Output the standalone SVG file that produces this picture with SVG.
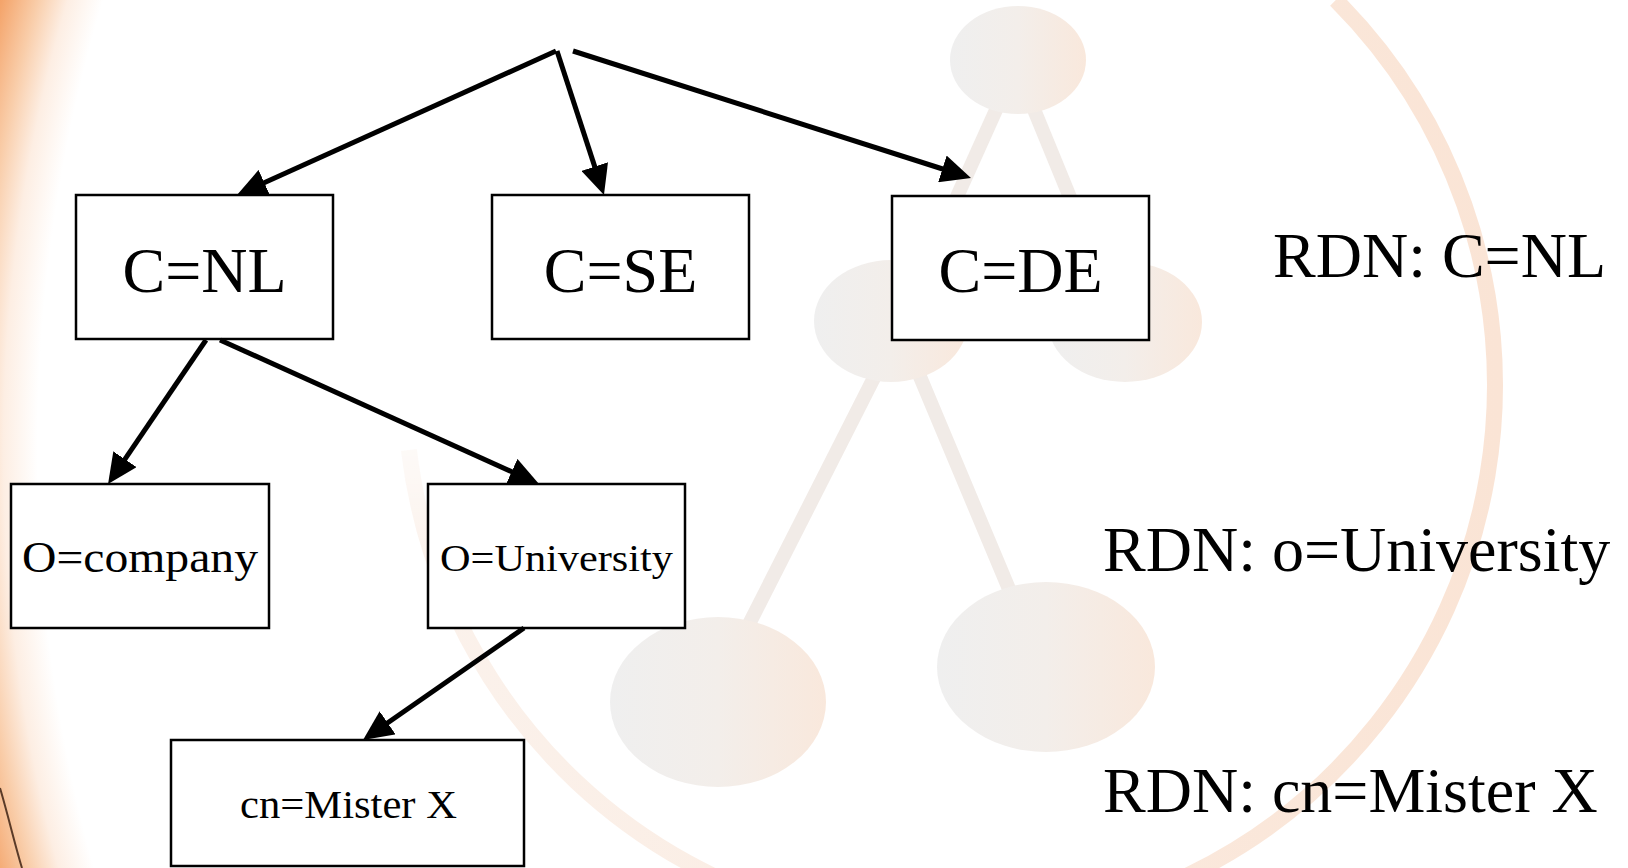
<svg xmlns="http://www.w3.org/2000/svg" width="1628" height="868" viewBox="0 0 1628 868">
  <defs>
    <!-- warm slide border fading in from the left edge -->
    <radialGradient id="edgeGlow" gradientUnits="userSpaceOnUse" cx="1610" cy="450" r="1700">
      <stop offset="0" stop-color="#ffffff"/>
      <stop offset="0.925" stop-color="#ffffff"/>
      <stop offset="0.945" stop-color="#fdeee3"/>
      <stop offset="0.962" stop-color="#f9cda9"/>
      <stop offset="0.982" stop-color="#f4a56c"/>
      <stop offset="1" stop-color="#f08f4c"/>
    </radialGradient>
    <linearGradient id="nodeTint" x1="0" y1="0" x2="1" y2="0">
      <stop offset="0" stop-color="#efefef"/>
      <stop offset="0.5" stop-color="#f3eeea"/>
      <stop offset="1" stop-color="#f9e8dc"/>
    </linearGradient>
    <linearGradient id="ringTint" gradientUnits="userSpaceOnUse" x1="400" y1="0" x2="1500" y2="0">
      <stop offset="0" stop-color="#fbf2ec"/>
      <stop offset="1" stop-color="#fae4d5"/>
    </linearGradient>
    <!-- fades the open end of the ring on the left -->
    <linearGradient id="ringFade" gradientUnits="userSpaceOnUse" x1="0" y1="380" x2="0" y2="560">
      <stop offset="0" stop-color="#000"/>
      <stop offset="1" stop-color="#fff"/>
    </linearGradient>
    <mask id="ringMask" maskUnits="userSpaceOnUse" x="0" y="0" width="1628" height="868">
      <rect x="0" y="0" width="1628" height="868" fill="#fff"/>
      <rect x="0" y="0" width="760" height="868" fill="url(#ringFade)"/>
    </mask>
    <marker id="arrow" viewBox="0 0 30 28" refX="2" refY="14" markerWidth="30" markerHeight="28" markerUnits="userSpaceOnUse" orient="auto">
      <path d="M0,0 L30,14 L0,28 z" fill="#000"/>
    </marker>
  </defs>
  <style>
    .box { fill: #ffffff; stroke: #000000; stroke-width: 2.5; }
    .serif { font-family: "Liberation Serif", "Times New Roman", serif; fill: #000000; }
    .big { font-size: 64px; }
    .edge { stroke: #000000; stroke-width: 5; fill: none; marker-end: url(#arrow); }
    .wm-line { stroke: #f1ebe7; stroke-width: 14; }
    .wm-node { fill: url(#nodeTint); }
  </style>

  <!-- background -->
  <rect x="0" y="0" width="1628" height="868" fill="url(#edgeGlow)"/>
  <path d="M0,788 C8,815 15,845 22,868" fill="none" stroke="#5b3b28" stroke-width="2"/>

  <!-- faint network emblem behind the tree -->
  <g id="emblem">
    <path d="M1335.8,0 A545,545 0 1 1 408.9,450" fill="none" stroke="url(#ringTint)" stroke-width="16" mask="url(#ringMask)"/>
    <line class="wm-line" x1="1005" y1="90" x2="915" y2="290"/>
    <line class="wm-line" x1="1026" y1="90" x2="1108" y2="290"/>
    <line class="wm-line" x1="883" y1="360" x2="741" y2="640"/>
    <line class="wm-line" x1="913" y1="360" x2="1022" y2="620"/>
    <ellipse class="wm-node" cx="1018" cy="60" rx="68" ry="54"/>
    <ellipse class="wm-node" cx="891" cy="321" rx="77" ry="61"/>
    <ellipse class="wm-node" cx="1125" cy="322" rx="77" ry="60"/>
    <ellipse class="wm-node" cx="718" cy="702" rx="108" ry="85"/>
    <ellipse class="wm-node" cx="1046" cy="667" rx="109" ry="85"/>
  </g>

  <!-- directory tree entries -->
  <g id="node-c-nl">
    <rect class="box" x="76" y="195" width="257" height="144"/>
    <text class="serif big" x="204.5" y="292" text-anchor="middle">C=NL</text>
  </g>
  <g id="node-c-se">
    <rect class="box" x="492" y="195" width="257" height="144"/>
    <text class="serif big" x="620.5" y="292" text-anchor="middle">C=SE</text>
  </g>
  <g id="node-c-de">
    <rect class="box" x="892" y="196" width="257" height="144"/>
    <text class="serif big" x="1020.5" y="292" text-anchor="middle">C=DE</text>
  </g>
  <g id="node-o-company">
    <rect class="box" x="11" y="484" width="258" height="144"/>
    <text class="serif" x="22" y="572" font-size="44" textLength="236" lengthAdjust="spacingAndGlyphs">O=company</text>
  </g>
  <g id="node-o-university">
    <rect class="box" x="428" y="484" width="257" height="144"/>
    <text class="serif" x="440" y="571" font-size="37" textLength="233" lengthAdjust="spacingAndGlyphs">O=University</text>
  </g>
  <g id="node-cn-mister-x">
    <rect class="box" x="171" y="740" width="353" height="126"/>
    <text class="serif" x="240" y="818" font-size="40" textLength="217" lengthAdjust="spacingAndGlyphs">cn=Mister X</text>
  </g>

  <!-- connectors -->
  <g id="connectors">
    <line class="edge" x1="556" y1="51" x2="262.5" y2="183.5"/>
    <line class="edge" x1="557" y1="51" x2="595.3" y2="168.4"/>
    <line class="edge" x1="573" y1="51" x2="944.3" y2="169.5"/>
    <line class="edge" x1="206" y1="340" x2="123.8" y2="460.9"/>
    <line class="edge" x1="220" y1="340" x2="513.5" y2="472.5"/>
    <line class="edge" x1="524" y1="628" x2="386" y2="724"/>
  </g>

  <!-- relative distinguished names -->
  <g id="rdn-labels">
    <text class="serif big" x="1273" y="277">RDN: C=NL</text>
    <text class="serif big" x="1103" y="571">RDN: o=University</text>
    <text class="serif big" x="1103" y="812">RDN: cn=Mister X</text>
  </g>
</svg>
